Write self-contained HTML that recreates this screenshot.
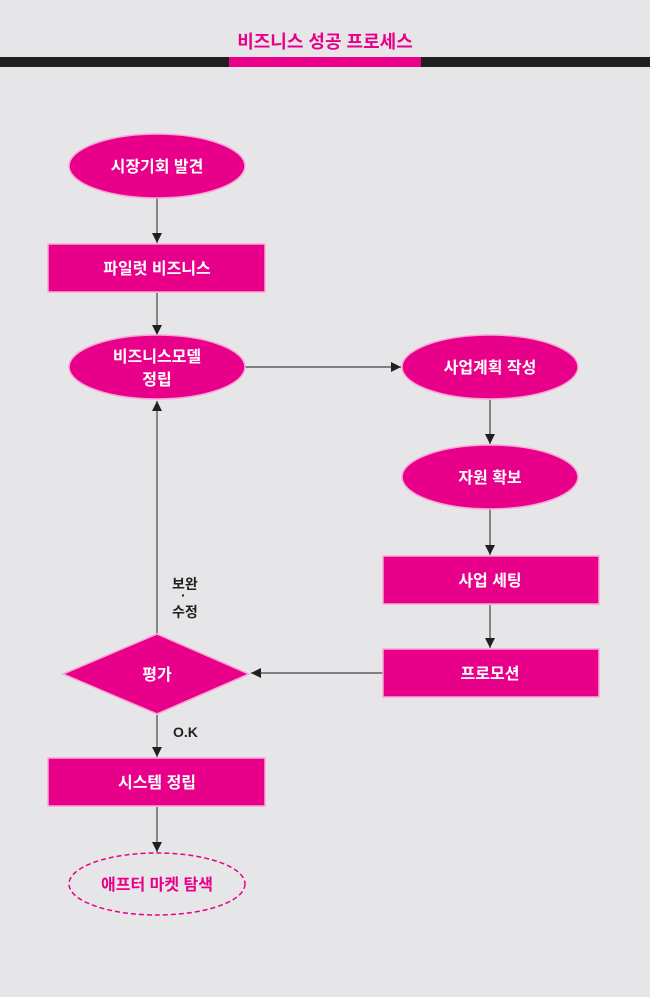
<!DOCTYPE html>
<html><head><meta charset="utf-8"><style>
html,body{margin:0;padding:0;background:#e6e6e8;}
svg{display:block;}
text{font-family:"Liberation Sans","Noto Sans CJK KR",sans-serif;font-weight:bold;}
</style></head><body>
<svg width="650" height="997" viewBox="0 0 650 997" xmlns="http://www.w3.org/2000/svg">
<defs>
<marker id="a" viewBox="0 0 10 10" refX="10" refY="5" markerWidth="10" markerHeight="10" markerUnits="userSpaceOnUse" orient="auto">
<path d="M0,0 L10,5 L0,10 z" fill="#231f20"/></marker>
</defs>
<rect width="650" height="997" fill="#e6e6e8"/>
<text x="325" y="48" font-size="18" fill="#e8008a" text-anchor="middle">비즈니스 성공 프로세스</text>
<rect x="0" y="57" width="650" height="10" fill="#231f20"/>
<rect x="229" y="57" width="192" height="10" fill="#e8008a"/>
<g stroke="#444" stroke-width="1.2" fill="none">
<line x1="157" y1="198" x2="157" y2="243" marker-end="url(#a)"/>
<line x1="157" y1="293" x2="157" y2="335" marker-end="url(#a)"/>
<line x1="245" y1="367" x2="401" y2="367" marker-end="url(#a)"/>
<line x1="490" y1="400" x2="490" y2="444" marker-end="url(#a)"/>
<line x1="490" y1="509" x2="490" y2="555" marker-end="url(#a)"/>
<line x1="490" y1="605" x2="490" y2="648" marker-end="url(#a)"/>
<line x1="383" y1="673" x2="251" y2="673" marker-end="url(#a)"/>
<line x1="157" y1="634" x2="157" y2="401" marker-end="url(#a)"/>
<line x1="157" y1="715" x2="157" y2="757" marker-end="url(#a)"/>
<line x1="157" y1="807" x2="157" y2="852" marker-end="url(#a)"/>
</g>
<g fill="#e8008a" stroke="#f7a8d4" stroke-width="1.5">
<ellipse cx="157" cy="166" rx="88" ry="32"/>
<rect x="48" y="244" width="217" height="48"/>
<ellipse cx="157" cy="367" rx="88" ry="32"/>
<ellipse cx="490" cy="367" rx="88" ry="32"/>
<ellipse cx="490" cy="477" rx="88" ry="32"/>
<rect x="383" y="556" width="216" height="48"/>
<rect x="383" y="649" width="216" height="48"/>
<polygon points="157,634 249,674 157,714 63,674"/>
<rect x="48" y="758" width="217" height="48"/>
</g>
<ellipse cx="157" cy="884" rx="88" ry="31" fill="none" stroke="#e8008a" stroke-width="1.5" stroke-dasharray="5,3"/>
<g fill="#fff" font-size="16" text-anchor="middle">
<text x="157" y="172">시장기회 발견</text>
<text x="157" y="274">파일럿 비즈니스</text>
<text x="157" y="362">비즈니스모델</text>
<text x="157" y="385">정립</text>
<text x="490" y="373">사업계획 작성</text>
<text x="490" y="483">자원 확보</text>
<text x="490" y="586">사업 세팅</text>
<text x="490" y="679">프로모션</text>
<text x="157" y="680">평가</text>
<text x="157" y="788">시스템 정립</text>
</g>
<text x="157" y="890" font-size="16" fill="#e8008a" text-anchor="middle">애프터 마켓 탐색</text>
<g fill="#231f20" font-size="14">
<text x="172" y="589">보완</text>
<text x="181" y="600">·</text>
<text x="172" y="617">수정</text>
<text x="173" y="737">O.K</text>
</g>
</svg>
</body></html>
